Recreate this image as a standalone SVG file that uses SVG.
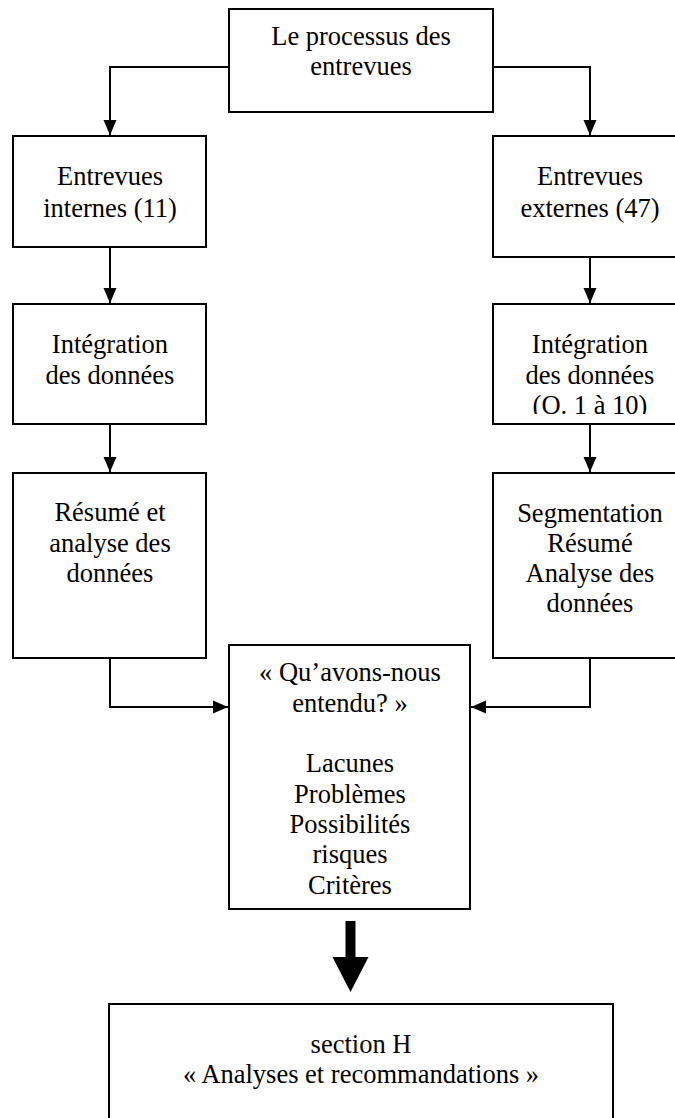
<svg xmlns="http://www.w3.org/2000/svg" width="675" height="1118" viewBox="0 0 675 1118">
<style>
.box{fill:#fff;stroke:#000;stroke-width:2}
.t{font-family:"Liberation Serif","Times New Roman",serif;font-size:26.5px;fill:#000;text-anchor:middle}
.c{fill:none;stroke:#000;stroke-width:2}
</style>
<defs>
<marker id="ah" markerUnits="userSpaceOnUse" markerWidth="16" markerHeight="16" viewBox="0 0 16 16" refX="15" refY="8" orient="auto">
<path d="M0,1.5 L15,8 L0,14.5 Z" fill="#000"/>
</marker>
<clipPath id="clipR2"><rect x="493" y="304" width="200" height="110"/></clipPath>
</defs>
<rect width="675" height="1118" fill="#fff"/>
<g id="connectors">
<path class="c" d="M229,67 H110 V135" marker-end="url(#ah)"/>
<path class="c" d="M493,67 H590 V135" marker-end="url(#ah)"/>
<path class="c" d="M110,247 V303" marker-end="url(#ah)"/>
<path class="c" d="M590,257 V303" marker-end="url(#ah)"/>
<path class="c" d="M110,424 V472" marker-end="url(#ah)"/>
<path class="c" d="M590,424 V472" marker-end="url(#ah)"/>
<path class="c" d="M110,658 V707 H228" marker-end="url(#ah)"/>
<path class="c" d="M590,658 V707 H471" marker-end="url(#ah)"/>
<polygon points="345.5,921 355.5,921 355.5,957 368.5,957 350.5,992 332.5,957 345.5,957" fill="#000"/>
</g>
<g id="n_top">
<rect class="box" x="229" y="9" width="264" height="103"/>
<text class="t" x="361" y="45">Le processus des</text>
<text class="t" x="361" y="75">entrevues</text>
</g>
<g id="n_int1">
<rect class="box" x="13" y="136" width="193" height="111"/>
<text class="t" x="110" y="185">Entrevues</text>
<text class="t" x="110" y="217">internes (11)</text>
</g>
<g id="n_ext1">
<rect class="box" x="493" y="136" width="200" height="121"/>
<text class="t" x="590" y="185">Entrevues</text>
<text class="t" x="590" y="217">externes (47)</text>
</g>
<g id="n_int2">
<rect class="box" x="13" y="304" width="193" height="120"/>
<text class="t" x="110" y="353">Intégration</text>
<text class="t" x="110" y="384">des données</text>
</g>
<g id="n_ext2">
<rect class="box" x="493" y="304" width="200" height="120"/>
<g clip-path="url(#clipR2)">
<text class="t" x="590" y="353">Intégration</text>
<text class="t" x="590" y="384">des données</text>
<text class="t" x="590" y="414">(O. 1 à 10)</text>
</g>
</g>
<g id="n_int3">
<rect class="box" x="13" y="473" width="193" height="185"/>
<text class="t" x="110" y="521">Résumé et</text>
<text class="t" x="110" y="552">analyse des</text>
<text class="t" x="110" y="582">données</text>
</g>
<g id="n_ext3">
<rect class="box" x="493" y="473" width="200" height="185"/>
<text class="t" x="590" y="522">Segmentation</text>
<text class="t" x="590" y="552">Résumé</text>
<text class="t" x="590" y="582">Analyse des</text>
<text class="t" x="590" y="612">données</text>
</g>
<g id="n_center">
<rect class="box" x="229" y="645" width="241" height="264"/>
<text class="t" x="350" y="681">« Qu’avons-nous</text>
<text class="t" x="350" y="712">entendu? »</text>
<text class="t" x="350" y="772">Lacunes</text>
<text class="t" x="350" y="803">Problèmes</text>
<text class="t" x="350" y="833">Possibilités</text>
<text class="t" x="350" y="863">risques</text>
<text class="t" x="350" y="894">Critères</text>
</g>
<g id="n_bottom">
<rect class="box" x="109" y="1004" width="504" height="130"/>
<text class="t" x="361" y="1053">section H</text>
<text class="t" x="361" y="1083">« Analyses et recommandations »</text>
</g>
</svg>
